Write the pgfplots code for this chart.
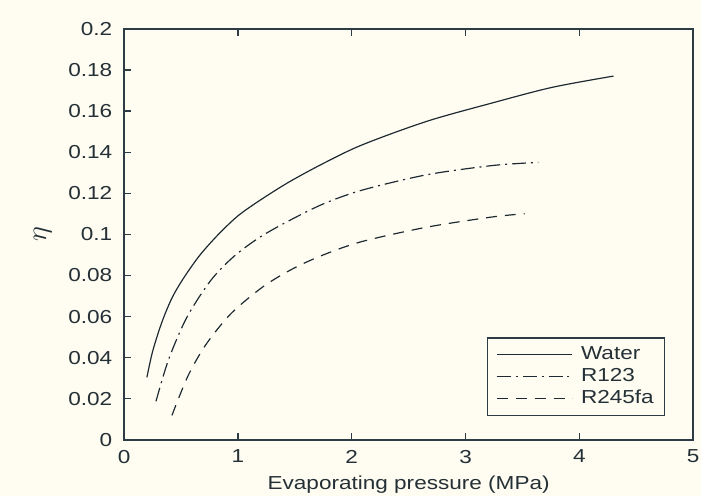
\documentclass[border=0pt]{standalone}
\usepackage{fontspec}
\setmainfont{Liberation Sans}[FakeStretch=1.2]
\usepackage{pgfplots}
\pgfplotsset{compat=1.18}
\usetikzlibrary{backgrounds}
\definecolor{cream}{RGB}{255,253,242}
\definecolor{axcol}{RGB}{45,60,68}
\definecolor{lncol}{RGB}{30,42,50}
\begin{document}
\begin{tikzpicture}
\begin{axis}[
  name=ax,
  scale only axis,
  width=286.5bp, height=207bp,
  xmin=0, xmax=5, ymin=0, ymax=0.2,
  xtick={0,1,2,3,4,5},
  ytick={0,0.02,0.04,0.06,0.08,0.1,0.12,0.14,0.16,0.18,0.2},
  scaled y ticks=false,
  yticklabel style={/pgf/number format/fixed, /pgf/number format/precision=2, xshift=-2.5bp},
  xticklabel style={yshift=-1.5bp},
  /pgf/number format/assume math mode=true,
  tick align=inside,
  xtick pos=both, ytick pos=left,
  major tick length=3.5bp,
  tick style={color=axcol, line width=0.6bp},
  axis line style={color=axcol, line width=0.8bp},
  axis background/.style={fill=cream},
  ticklabel style={font=\fontsize{9.5}{11}\selectfont, text=axcol!80!black},
  label style={font=\fontsize{9.5}{11}\selectfont, text=axcol!80!black},
  xlabel={Evaporating pressure (MPa)},
  xlabel style={at={(axis description cs:0.5,0)}, anchor=center, yshift=-22.5bp},
  ylabel={\Large$\eta$},
  ylabel style={at={(axis description cs:-0.143,0.5)}, anchor=center},
  legend style={at={(axis description cs:0.951,0.058)}, anchor=south east,
    draw=axcol, line width=0.6bp, fill=cream,
    inner xsep=4.5bp, inner ysep=3bp,
    font=\fontsize{9.5}{11}\selectfont,
    nodes={inner sep=1bp, text height=7bp, text depth=2bp, text=axcol!80!black},
    /tikz/every odd column/.append style={column sep=3bp}},
  legend cell align=left,
  legend image code/.code={\draw[#1] (0bp,0bp) -- (38bp,0bp);},
]
\addplot[lncol, line width=0.6bp, smooth] coordinates {
(0.20,0.0304) (0.25,0.043) (0.33,0.057) (0.42,0.069) (0.52,0.0785)
(0.66,0.0895) (0.82,0.0995) (1.0,0.109) (1.2,0.1168) (1.45,0.1255)
(1.75,0.1345) (2.09,0.1435) (2.66,0.155) (3.24,0.164) (3.76,0.1715) (4.30,0.177)
};
\addlegendentry{Water}
\addplot[lncol, line width=0.6bp, smooth, dash pattern=on 7bp off 2.5bp on 1bp off 2.5bp] coordinates {
(0.28,0.0188) (0.39,0.039) (0.55,0.0595) (0.76,0.0775) (0.965,0.0893)
(1.195,0.0987) (1.455,0.1068) (1.75,0.1148) (2.09,0.1215) (2.66,0.129)
(3.24,0.1335) (3.64,0.135)
};
\addlegendentry{R123}
\addplot[lncol, line width=0.6bp, smooth, dash pattern=on 5.5bp off 4bp] coordinates {
(0.42,0.0119) (0.56,0.031) (0.72,0.0465) (0.94,0.0615) (1.22,0.0745)
(1.48,0.0832) (1.75,0.0900) (2.09,0.0965) (2.66,0.1035) (3.24,0.1085) (3.52,0.110)
};
\addlegendentry{R245fa}
\end{axis}
\path[use as bounding box] ([shift={(-62.5bp,-28bp)}]ax.south west) rectangle ([shift={(4bp,14.5bp)}]ax.north east);
\begin{scope}[on background layer]
\fill[cream] ([shift={(-62.5bp,-28bp)}]ax.south west) rectangle ([shift={(4bp,14.5bp)}]ax.north east);
\end{scope}
\end{tikzpicture}
\end{document}
